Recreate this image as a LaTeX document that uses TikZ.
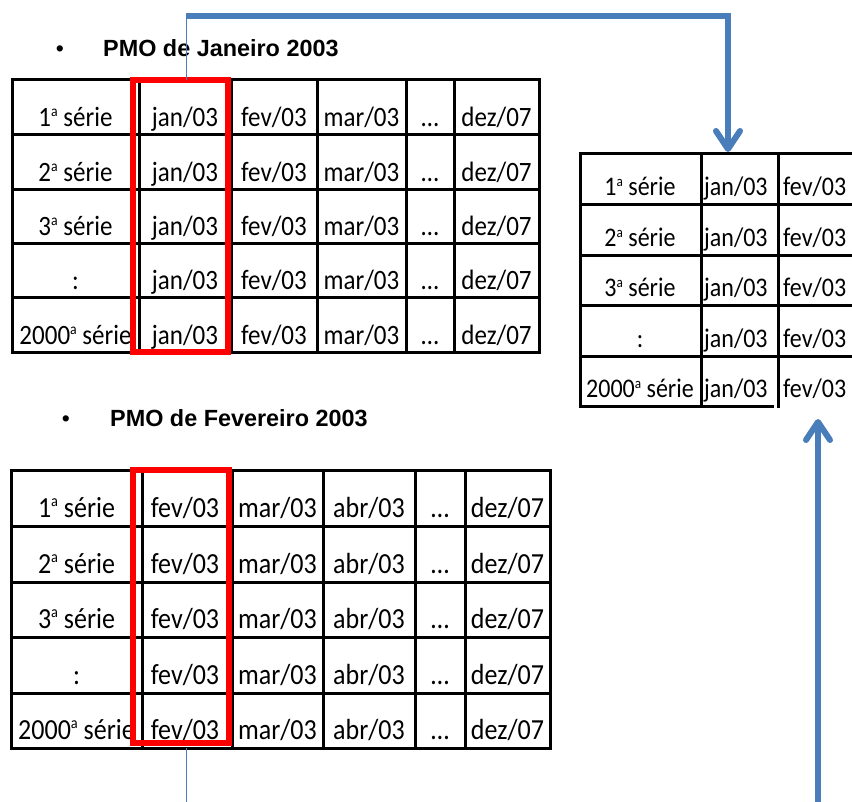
\documentclass[tikz,border=0pt]{standalone}
\usepackage{fontspec}
\setmainfont{Carlito}
\newfontfamily\titlefont{Liberation Sans}
\usetikzlibrary{arrows.meta}
\definecolor{linkblue}{RGB}{74,126,187}
\definecolor{boxred}{RGB}{255,0,0}
\newcommand\tallcell[1]{\scalebox{1}[1.12]{#1}}
\newcommand\ord[1]{#1\raisebox{0.75ex}{\scalebox{0.55}{a}}}

\begin{document}
\begin{tikzpicture}[x=1pt,y=-1pt,
 tabline/.style={line width=3pt,line cap=rect},
 cell/.style={anchor=base,inner sep=0pt,font=\fontsize{25}{25}\selectfont},
 bigcell/.style={cell,font=\fontsize{26}{26}\selectfont},
 smallcell/.style={cell,anchor=base west,font=\fontsize{24}{24}\selectfont},
 redbox/.style={draw=boxred,line width=6pt,inner sep=0pt,outer sep=0pt},
 thinlink/.style={draw=linkblue,line width=1pt},
 thicklink/.style={draw=linkblue,line width=6pt,line join=miter,
  -{Straight Barb[length=18pt,width=24pt,round]}},
 heading/.style={anchor=base west,inner sep=0pt,font=\titlefont\bfseries\fontsize{23.4}{23.4}\selectfont},
 dot/.style={anchor=base,inner sep=0pt,font=\titlefont\fontsize{23}{23}\selectfont}]
\useasboundingbox (0,0) rectangle (852,802);

\node[dot] (janbullet) at (60,57) {\textbullet};
\node[heading] (janhead) at (103,57) {PMO de Janeiro 2003};
\node[dot] (fevbullet) at (66,426) {\textbullet};
\node[heading] (fevhead) at (110,426) {PMO de Fevereiro 2003};

\foreach \y in {80,135,190,244,298,353} \draw[tabline] (12,\y) -- (539,\y);
\foreach \x in {12,139,231,317,406,454,539} \draw[tabline] (\x,80) -- (\x,353);
\foreach \yb/\lab [count=\i] in {127/{\ord{1} série},182/{\ord{2} série},
  236/{\ord{3} série},290/{:},345/{\ord{2000} série}} {
  \node[cell] (jan-\i-0) at (75.5,\yb) {\tallcell{\lab}};
  \foreach \xc/\m [count=\j] in {185/{jan/03},274/{fev/03},361.5/{mar/03},430/{…},496.5/{dez/07}}
    \node[cell] (jan-\i-\j) at (\xc,\yb) {\tallcell{\m}};
}

\foreach \y in {470,526,582,637,693,748} \draw[tabline] (11,\y) -- (550,\y);
\foreach \x in {11,142,232,323,415,465,550} \draw[tabline] (\x,470) -- (\x,748);
\foreach \yb/\lab [count=\i] in {517/{\ord{1} série},573/{\ord{2} série},
  628/{\ord{3} série},684/{:},739/{\ord{2000} série}} {
  \node[bigcell] (fev-\i-0) at (76.5,\yb) {\tallcell{\lab}};
  \foreach \xc/\m [count=\j] in {185/{fev/03},277.5/{mar/03},369/{abr/03},440/{…},507.5/{dez/07}}
    \node[bigcell] (fev-\i-\j) at (\xc,\yb) {\tallcell{\m}};
}

\foreach \y in {154,205,256,306,357} \draw[tabline] (580,\y) -- (852,\y);
\draw[tabline] (580,407) -- (772,407);
\foreach \x in {580,701,778} \draw[tabline] (\x,154) -- (\x,407);
\foreach \yb/\lab [count=\i] in {196/{\ord{1} série},247/{\ord{2} série},
  297/{\ord{3} série},348/{:},398/{\ord{2000} série}} {
  \node[smallcell,anchor=base] (res-\i-0) at (640,\yb) {\tallcell{\lab}};
  \begin{scope}
    \clip (701,154) rectangle (771,407);
    \node[smallcell] (res-\i-1) at (704,\yb) {\tallcell{jan/03}};
  \end{scope}
  \node[smallcell] (res-\i-2) at (783,\yb) {\tallcell{fev/03}};
}

\node[redbox,minimum width=95pt,minimum height=272pt] (janbox) at (180.5,216) {};
\node[redbox,minimum width=96pt,minimum height=273pt] (fevbox) at (181,606.5) {};

\coordinate (janup) at (186,80);
\coordinate (janbend) at (186,16);
\coordinate (resbend) at (728,16);
\coordinate (resjan) at (728,152);
\draw[thinlink] (janup) -- (janbend);
\draw[thicklink] (janbend) -- (resbend) -- (resjan);

\coordinate (fevdown) at (186,748);
\coordinate (fevfoot) at (186,802);
\coordinate (resfoot) at (818,802);
\coordinate (resfev) at (818,419);
\draw[thinlink] (fevdown) -- (fevfoot);
\draw[thicklink] (resfoot) -- (resfev);
\end{tikzpicture}
\end{document}
